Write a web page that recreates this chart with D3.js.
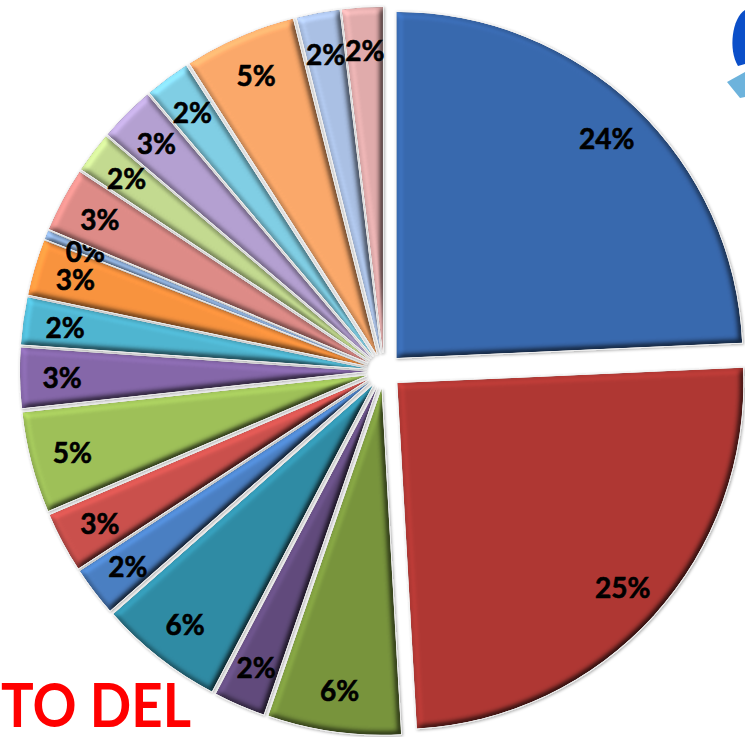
<!DOCTYPE html>
<html>
<meta charset="UTF-8" />
<script src="https://cdn.jsdelivr.net/npm/d3@7/dist/d3.min.js"></script>
<style>
*{margin:0; padding:0;}
body{background:#ffffff; overflow:hidden;}
</style>
<body>
<div id="chart"></div>
<script>
// slice values (share of total, in percent), clockwise from 12 o'clock
var values = [24.3, 24.8, 6.2, 2.4, 5.8, 2.3, 2.8, 4.7, 2.8, 2.2, 2.6, 0.4, 3.0, 1.9, 2.6, 2.1, 5.2, 2.0, 1.9];
var colors = ["#3868ad", "#ae3733", "#77933c", "#604a7b", "#2f8aa3", "#4a7ec1", "#c9504c", "#9dbf58", "#8466a8", "#4fb4cf",
              "#f7923e", "#8fb0dc", "#dc8a86", "#c2d98f", "#b39fd0", "#7fcde3", "#f9a769", "#a9bfe3", "#dfaaaa"];
var title = "TO DEL";

var width = 745, height = 737;
var cx = 384, cy = 371, radius = 346, explode = 18, labelR = 304;

var svg = d3.select("#chart").append("svg")
	.attr("width", width)
	.attr("height", height);

var defs = svg.append("defs");
var f = defs.append("filter").attr("id", "bevel")
	.attr("x", "-5%").attr("y", "-5%").attr("width", "110%").attr("height", "110%")
	.attr("color-interpolation-filters", "sRGB");
f.append("feGaussianBlur").attr("in", "SourceAlpha").attr("stdDeviation", 3).attr("result", "b");
f.append("feDiffuseLighting").attr("in", "b").attr("surfaceScale", 4).attr("diffuseConstant", 1)
	.attr("lighting-color", "#fff").attr("result", "d")
	.append("feDistantLight").attr("azimuth", 225).attr("elevation", 60);
f.append("feComposite").attr("in", "d").attr("in2", "SourceGraphic").attr("operator", "arithmetic")
	.attr("k1", 1.16).attr("k2", 0).attr("k3", 0).attr("k4", 0).attr("result", "lit");
f.append("feComposite").attr("in", "lit").attr("in2", "SourceAlpha").attr("operator", "in");

var shadow = defs.append("filter").attr("id", "shadow")
	.attr("x", "-10%").attr("y", "-10%").attr("width", "120%").attr("height", "120%");
shadow.append("feDropShadow").attr("dx", 1).attr("dy", 1).attr("stdDeviation", 1.5)
	.attr("flood-color", "#000").attr("flood-opacity", 0.35);

var total = d3.sum(values);
var pie = d3.pie().sort(null).value(function(d){ return d; });
var arc = d3.arc().innerRadius(0).outerRadius(radius);
var arcs = pie(values);
var pct = d3.format(".0%");

function dir(a){ return [Math.sin(a), -Math.cos(a)]; }

var g = svg.append("g").attr("transform", "translate(" + cx + "," + cy + ")");

var slice = g.selectAll("g.slice").data(arcs).enter().append("g")
	.attr("class", "slice")
	.attr("transform", function(d){
		var v = dir((d.startAngle + d.endAngle) / 2);
		return "translate(" + (v[0] * explode) + "," + (v[1] * explode) + ")";
	});

slice.append("path")
	.attr("d", arc)
	.attr("fill", function(d, i){ return colors[i]; })
	.attr("stroke", "#f2f2f2")
	.attr("stroke-width", 1.5)
	.attr("filter", "url(#shadow)");

slice.append("path")
	.attr("d", arc)
	.attr("fill", function(d, i){ return colors[i]; })
	.attr("filter", "url(#bevel)");

slice.append("text")
	.attr("x", function(d){ return dir((d.startAngle + d.endAngle) / 2)[0] * labelR; })
	.attr("y", function(d){ return dir((d.startAngle + d.endAngle) / 2)[1] * labelR; })
	.attr("text-anchor", "middle")
	.attr("dominant-baseline", "central")
	.style("font-family", "Lato, 'Open Sans', sans-serif")
	.style("font-weight", "bold")
	.style("font-size", "28px")
	.style("fill", "#000")
	.style("stroke", "#000")
	.style("stroke-width", 0.6)
	.text(function(d){ return pct(d.value / total); });

// corner logo fragment
svg.append("path")
	.attr("d", "M745,10 C732,18 728,50 738,66 L745,64 Z")
	.attr("fill", "#0b4fc9");
svg.append("path")
	.attr("d", "M727,82 L745,72 L745,97 L740,98 Z")
	.attr("fill", "#6db3dc");

svg.append("text")
	.attr("x", 1)
	.attr("y", 727)
	.attr("textLength", 190)
	.attr("lengthAdjust", "spacingAndGlyphs")
	.style("font-family", "Lato, 'Open Sans', sans-serif")
	.style("font-weight", "bold")
	.style("font-size", "62px")
	.style("fill", "#ff0000")
	.text(title);
</script>
</body>
</html>
